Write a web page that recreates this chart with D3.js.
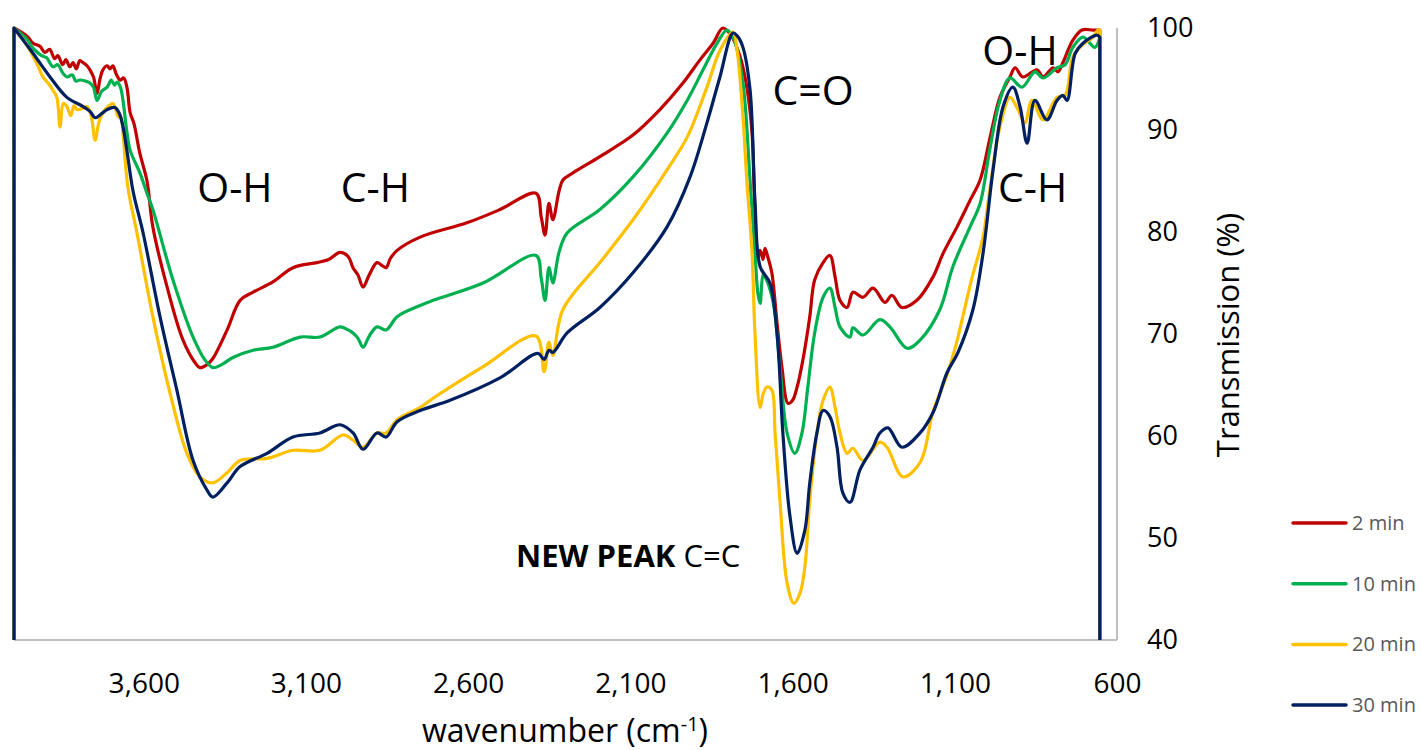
<!DOCTYPE html>
<meta charset="utf-8">
<script src="https://d3js.org/d3.v7.min.js"></script>
<style>
  body { margin: 0; background: #fff; }
  text { font-family: "Open Sans", sans-serif; }
</style>
<svg id="chart" width="1421" height="750"></svg>

<script>

  // FTIR spectra, [wavenumber (cm-1), transmission (%)]
  var min2 = [
    [4000,40],[4000,100],[3960,99.2],[3941,98.5],[3920,98.2],[3905,97.6],[3890,97.9],[3875,97.0],
    [3865,97.3],[3850,96.4],[3840,96.9],[3828,96.2],[3818,96.6],[3808,96.0],[3797,96.8],[3787,96.6],
    [3775,96.3],[3766,95.9],[3755,95.2],[3744,93.6],[3735,95.0],[3726,95.9],[3713,96.3],[3704,96.0],
    [3695,96.3],[3685,95.5],[3673,94.9],[3662,95.1],[3652,94.2],[3642,91.7],[3630,90.6],[3612,87.7],
    [3590,85],[3572,80.5],[3528,74.6],[3479,69.4],[3440,67.1],[3427,66.7],[3405,67],[3387,67.6],
    [3343,70.4],[3303,73.3],[3263,74.1],[3202,75.1],[3140,76.5],[3066,77],[3030,77.3],[2995,78],
    [2970,77.6],[2955,76.5],[2940,75.8],[2924,74.6],[2905,75.8],[2881,77],[2865,76.7],[2853,76.5],
    [2840,77.4],[2819,78.2],[2748,79.5],[2604,80.9],[2502,82.2],[2391,83.8],[2375,81.5],[2363,79.7],
    [2351,82.8],[2339,81.2],[2320,84],[2308,85.1],[2277,85.8],[2194,87.4],[2092,89.5],[2009,92],
    [1938,94.6],[1885,96.9],[1845,98.5],[1815,100],[1790,99.3],[1762,97.2],[1741,94.2],[1725,89.7],
    [1716,82],[1707,77.5],[1700,78.2],[1691,77.3],[1685,78.4],[1676,77.5],[1664,76],[1648,71.1],
    [1633,66.8],[1614,63.2],[1600,63.5],[1586,64.8],[1568,67.5],[1547,71.7],[1532,75.3],[1506,77],
    [1485,77.7],[1469,75.6],[1454,73.3],[1432,72.6],[1414,74.1],[1383,73.6],[1352,74.5],[1315,73.1],
    [1294,73.8],[1263,72.6],[1217,73.3],[1167,75.6],[1136,77.9],[1093,80.5],[1053,83.1],[1022,85.1],
    [991,89.3],[961,93.2],[930,95.2],[914,96.1],[890,95.2],[847,95.9],[828,95.2],[797,96.1],
    [782,95.7],[767,96.6],[736,98.8],[708,99.8],[674,99.8],[653,99.8],[653,40]
  ];

  var min10 = [
    [4000,40],[4000,100],[3960,98.9],[3941,98],[3915,97.3],[3900,97.1],[3880,96.2],[3865,96.4],
    [3850,95.6],[3837,95.2],[3820,95.4],[3810,94.8],[3797,94.9],[3780,94.8],[3766,94.6],[3755,94.2],
    [3744,92.9],[3730,93.8],[3713,94.2],[3700,94.9],[3690,94.4],[3682,94.7],[3672,94.2],[3664,92.9],
    [3652,89.8],[3642,88],[3612,85.8],[3590,83.8],[3572,82.2],[3510,75.3],[3448,69.7],[3410,67.4],
    [3387,66.7],[3360,67],[3325,67.7],[3263,68.4],[3202,68.7],[3118,69.7],[3057,69.7],[2995,70.7],
    [2970,70.4],[2955,70.1],[2940,69.6],[2924,68.7],[2905,69.8],[2881,70.7],[2853,70.4],[2819,71.7],
    [2748,72.8],[2708,73.3],[2554,75],[2391,77.7],[2375,75.5],[2363,73.3],[2351,76.5],[2339,75],
    [2320,78],[2295,79.9],[2194,82.2],[2092,85.4],[1987,89.7],[1925,92.9],[1876,95.9],[1833,98.5],
    [1802,99.8],[1780,98.8],[1753,94.6],[1731,85],[1716,78],[1707,74],[1700,73],[1691,75.8],
    [1685,75.6],[1661,73.3],[1639,66.8],[1617,60.3],[1593,58.3],[1571,60.3],[1553,64.8],[1532,70.1],
    [1506,73.6],[1485,74.5],[1469,72.6],[1454,70.7],[1423,69.7],[1414,70.6],[1383,69.9],[1331,71.4],
    [1300,70.7],[1247,68.6],[1207,69.4],[1146,72.4],[1106,76.6],[1053,80.5],[1022,82.8],[991,88.3],
    [961,92.9],[930,95.1],[893,94.2],[853,95.7],[828,95.1],[785,96.1],[760,96.4],[736,98.1],
    [705,99.1],[668,98.1],[653,99.1],[653,40]
  ];

  var min20 = [
    [4000,40],[4000,100],[3960,98.3],[3941,97.2],[3925,96.2],[3911,95.2],[3895,94.6],[3880,93.9],
    [3868,93.2],[3858,90.3],[3848,92.6],[3837,92.3],[3825,91.4],[3815,92.4],[3806,92],[3790,92.1],
    [3775,92.3],[3762,91.4],[3750,89],[3738,90.8],[3726,91.7],[3710,92.3],[3695,92.6],[3687,92.1],
    [3679,91.3],[3670,91.2],[3664,89.7],[3649,84.4],[3621,79.9],[3572,71.7],[3519,64.2],[3467,58.3],
    [3427,56],[3387,55.4],[3343,56.4],[3303,57.6],[3220,57.8],[3140,58.6],[3057,58.6],[2986,60.1],
    [2955,59.6],[2924,58.9],[2881,60.3],[2853,60.3],[2819,61.6],[2748,62.8],[2708,63.7],[2554,66.8],
    [2391,69.8],[2366,66.3],[2351,69.2],[2339,67.9],[2308,72.4],[2194,77],[2092,81.2],[1987,86.1],
    [1925,89.3],[1864,94.2],[1824,97.8],[1784,99.6],[1771,97.8],[1753,91.3],[1741,85],[1725,78],
    [1716,70.1],[1700,62.8],[1690,64.2],[1679,64.8],[1664,64.5],[1654,60.3],[1639,53.7],[1617,45.6],
    [1596,43.6],[1577,44.6],[1562,47.2],[1547,53.7],[1525,60.3],[1506,63.5],[1485,64.8],[1469,62.8],
    [1454,60.3],[1432,58.3],[1414,58.8],[1383,57.6],[1331,59.4],[1309,58.9],[1260,56],[1207,57.4],
    [1167,62.4],[1124,66],[1099,68.6],[1047,75.5],[1013,79.5],[991,84.4],[961,90.3],[930,93.2],
    [905,92],[884,90.7],[862,92.9],[828,91],[785,93.2],[760,93.4],[736,97.2],[708,98.3],
    [674,99.1],[659,99.8],[653,99.8],[653,40]
  ];

  var min30 = [
    [4000,40],[4000,100],[3941,97.5],[3889,95.2],[3837,93.2],[3787,92.3],[3765,91.8],[3750,91.2],
    [3730,91.6],[3713,92],[3689,92.2],[3675,91.6],[3664,90.3],[3652,88],[3633,84],[3602,79.9],
    [3550,71.7],[3498,64.5],[3448,57.6],[3405,54.7],[3387,54],[3343,55.4],[3303,57],[3220,58.3],
    [3140,59.9],[3057,60.3],[2995,61.1],[2955,60.3],[2924,58.7],[2881,60.3],[2853,59.9],[2819,61.4],
    [2748,62.5],[2656,63.5],[2502,65.7],[2385,68.1],[2366,67.5],[2351,68.4],[2339,68.2],[2295,70.1],
    [2194,72.6],[2092,76],[1987,80.5],[1916,85.4],[1864,90.7],[1824,95.2],[1784,99.5],[1770,99.2],
    [1753,98.1],[1731,93.9],[1716,83.1],[1700,76.6],[1670,75],[1648,70.1],[1630,60.3],[1608,52.1],
    [1586,48.5],[1562,50.8],[1547,55.4],[1525,60.3],[1506,62.5],[1485,61.9],[1463,58.9],[1445,54.4],
    [1423,53.5],[1392,56.7],[1352,58.9],[1331,60.3],[1306,60.8],[1263,58.9],[1207,60.3],[1167,62.3],
    [1124,66.2],[1090,68.2],[1044,72.4],[1013,77.9],[982,86.1],[951,92.3],[921,94.2],[899,92.3],
    [877,88.7],[853,92.9],[816,91],[785,92.9],[767,93.4],[754,92.9],[729,97.5],[705,98.5],
    [662,99.3],[653,99.1],[653,40]
  ];

  var seriesNames = ["2 min", "10 min", "20 min", "30 min"];
  var seriesColors = ["#C00000", "#00B050", "#FFC000", "#002060"];
  var seriesData = [min2, min10, min20, min30];

  var xTicks = [3600, 3100, 2600, 2100, 1600, 1100, 600];
  var yTicks = [40, 50, 60, 70, 80, 90, 100];

  var labels = [
    { text: "O-H", wn: 3319, t: 82.9 },
    { text: "C-H", wn: 2886, t: 82.9 },
    { text: "C=O", wn: 1537, t: 92.45 },
    { text: "O-H", wn: 899, t: 96.4 },
    { text: "C-H", wn: 860, t: 82.9 }
  ];

  var svg = d3.select("#chart");
  var pLeft = 14, pRight = 1117, pTop = 28, pBottom = 640;

  var x = d3.scaleLinear().domain([4000, 600]).range([pLeft, pRight]);
  var y = d3.scaleLinear().domain([40, 100]).range([pBottom, pTop]);

  // plot border (right + bottom only)
  svg.append("line")
    .attr("x1", pLeft).attr("x2", pRight).attr("y1", pBottom).attr("y2", pBottom)
    .attr("stroke", "#bfbfbf").attr("stroke-width", 2);
  svg.append("line")
    .attr("x1", pRight).attr("x2", pRight).attr("y1", pTop).attr("y2", pBottom)
    .attr("stroke", "#bfbfbf").attr("stroke-width", 2);

  // x axis
  var xAxis = svg.append("g")
    .attr("transform", "translate(0," + pBottom + ")")
    .call(d3.axisBottom(x).tickValues(xTicks).tickFormat(d3.format(",")).tickSize(0).tickPadding(33));
  xAxis.select(".domain").remove();
  xAxis.selectAll("text").style("font-size", "28px").style("fill", "#000")
    .style("font-family", "Open Sans");

  // y axis, on the right
  var yAxis = svg.append("g")
    .attr("transform", "translate(1147,0)")
    .call(d3.axisRight(y).tickValues(yTicks).tickSize(0).tickPadding(0));
  yAxis.select(".domain").remove();
  yAxis.selectAll("text").style("font-size", "27px").style("fill", "#000")
    .style("font-family", "Open Sans");

  // axis titles
  var xt = svg.append("text")
    .attr("x", 565).attr("y", 742)
    .attr("text-anchor", "middle")
    .style("font-size", "32px");
  xt.append("tspan").text("wavenumber (cm");
  xt.append("tspan").attr("dy", -11).style("font-size", "20px").text("-1");
  xt.append("tspan").attr("dy", 11).text(")");

  svg.append("text")
    .attr("transform", "translate(1239,335) rotate(-90)")
    .attr("text-anchor", "middle")
    .style("font-size", "31px")
    .text("Transmission (%)");

  // spectra
  svg.append("clipPath").attr("id", "plotclip")
    .append("rect").attr("x", pLeft - 3).attr("y", pTop - 3)
    .attr("width", pRight - pLeft + 6).attr("height", pBottom - pTop + 3);

  var curve = d3.line()
    .x(function(d) { return x(d[0]); })
    .y(function(d) { return y(d[1]); })
    .curve(d3.curveCatmullRom.alpha(0.5));

  // smooth body, straight drops at both ends
  function spectrumPath(d) {
    var first = d[0], last = d[d.length - 1];
    var body = curve(d.slice(1, d.length - 1));
    return "M" + x(first[0]) + "," + y(first[1]) + "L" + body.slice(1) +
           "L" + x(last[0]) + "," + y(last[1]);
  }

  svg.append("g").attr("clip-path", "url(#plotclip)")
    .selectAll("path")
    .data(seriesData)
    .enter()
    .append("path")
      .attr("d", spectrumPath)
      .attr("fill", "none")
      .attr("stroke", function(d, i) { return seriesColors[i]; })
      .attr("stroke-width", 3.2)
      .attr("stroke-linejoin", "round")
      .attr("stroke-linecap", "round");

  // band labels
  svg.selectAll(".band")
    .data(labels)
    .enter()
    .append("text")
      .attr("class", "band")
      .attr("x", function(d) { return x(d.wn); })
      .attr("y", function(d) { return y(d.t); })
      .attr("text-anchor", "middle")
      .style("font-size", "41px")
      .text(function(d) { return d.text; });

  var np = svg.append("text")
    .attr("x", 516).attr("y", 567)
    .style("font-size", "31px");
  np.append("tspan").style("font-weight", "bold").text("NEW PEAK");
  np.append("tspan").text(" C=C");

  // legend
  var legend = svg.selectAll(".leg")
    .data(seriesNames)
    .enter()
    .append("g")
      .attr("class", "leg")
      .attr("transform", function(d, i) { return "translate(1293," + (523 + i * 60.7) + ")"; });
  legend.append("line")
    .attr("x1", 0).attr("x2", 53)
    .attr("stroke", function(d, i) { return seriesColors[i]; })
    .attr("stroke-width", 3.5)
    .attr("stroke-linecap", "round");
  legend.append("text")
    .attr("x", 59).attr("y", 7)
    .style("font-size", "20px")
    .style("fill", "#595959")
    .text(function(d) { return d; });

</script>
